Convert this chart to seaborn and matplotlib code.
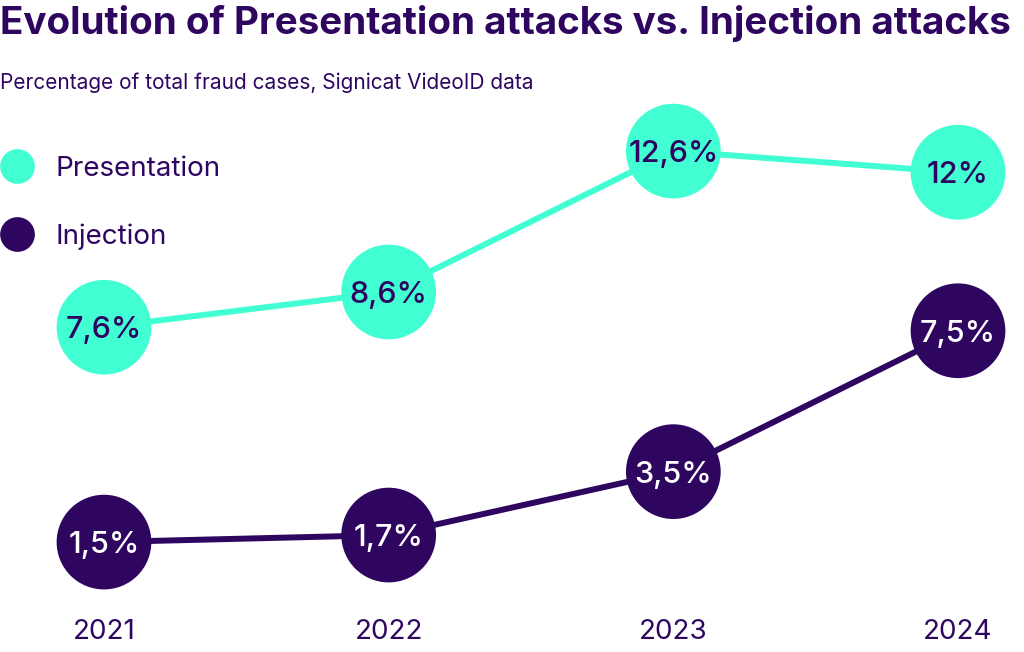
import matplotlib
matplotlib.use("Agg")
import matplotlib.pyplot as plt
from matplotlib.lines import Line2D
import seaborn as sns
import pandas as pd

# ---- data ----
years = ["2021", "2022", "2023", "2024"]
presentation = [7.6, 8.6, 12.6, 12.0]
injection = [1.5, 1.7, 3.5, 7.5]
presentation_labels = ["7,6%", "8,6%", "12,6%", "12%"]
injection_labels = ["1,5%", "1,7%", "3,5%", "7,5%"]
series_names = ["Presentation", "Injection"]

title = "Evolution of Presentation attacks vs. Injection attacks"
subtitle = "Percentage of total fraud cases, Signicat VideoID data"

TEAL = "#41FFD3"
PURPLE = "#2E0660"

sns.set_theme(style="white")
plt.rcParams["font.family"] = ["Inter", "DejaVu Sans"]

df = pd.DataFrame({
    "idx": list(range(len(years))) * 2,
    "value": presentation + injection,
    "series": [series_names[0]] * len(years) + [series_names[1]] * len(years),
})
palette = {series_names[0]: TEAL, series_names[1]: PURPLE}

fig = plt.figure(figsize=(10.24, 6.52), dpi=100)
ax = fig.add_axes([0, 0, 1, 1])
ax.set_xlim(-0.3653, 3.2318)
ax.set_ylim(-1.62, 16.89)
ax.axis("off")

sns.lineplot(data=df, x="idx", y="value", hue="series", palette=palette,
             linewidth=4.3, ax=ax, legend=False, zorder=1)
sns.scatterplot(data=df, x="idx", y="value", hue="series", palette=palette,
                s=4650, linewidth=0, ax=ax, legend=False, zorder=2)

for i, (v, lab) in enumerate(zip(presentation, presentation_labels)):
    ax.text(i, v, lab, ha="center", va="center_baseline", fontsize=22,
            fontweight="medium", color=PURPLE, zorder=3)
for i, (v, lab) in enumerate(zip(injection, injection_labels)):
    ax.text(i, v, lab, ha="center", va="center_baseline", fontsize=22,
            fontweight="medium", color="white", zorder=3)

# year labels along the bottom
trans = ax.get_xaxis_transform()
for i, y in enumerate(years):
    ax.text(i, 1 - 632 / 652, y, transform=trans, ha="center", va="center",
            fontsize=20, color=PURPLE)

fig.text(0.0, 1 - 23 / 652, title, ha="left", va="center", fontsize=27.8,
         fontweight="bold", color=PURPLE)
fig.text(0.0, 1 - 83 / 652, subtitle, ha="left", va="center", fontsize=15,
         color=PURPLE)

handles = [Line2D([0], [0], marker="o", linestyle="none", markersize=25,
                  markerfacecolor=c, markeredgewidth=0)
           for c in (TEAL, PURPLE)]
leg = ax.legend(handles, series_names, loc="upper left",
                bbox_to_anchor=(0.0, 1 - 156 / 652), frameon=False,
                fontsize=20, labelcolor=PURPLE, handletextpad=0.79,
                labelspacing=1.5, borderpad=0, borderaxespad=0,
                handlelength=1.2)

fig.savefig("out.png", dpi=100)
